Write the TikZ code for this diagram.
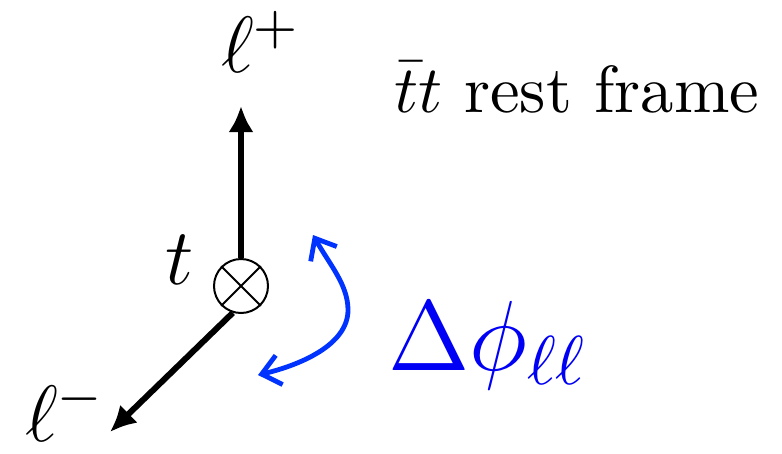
\documentclass[tikz,border=0pt]{standalone}
\usepackage{fontspec}
\usepackage{graphicx}
\usetikzlibrary{arrows.meta}
\definecolor{curveblue}{RGB}{0,51,255}
\definecolor{textblue}{RGB}{0,0,245}
\newcommand{\bigtxt}[2]{\scalebox{#1}{#2}}
\begin{document}
\begin{tikzpicture}[x=0.25pt,y=-0.25pt,
  lbl/.style={anchor=base west, inner sep=0pt, outer sep=0pt},
  vec/.style={line width=1.5pt, -{Latex[length=6.5pt,width=6.3pt]}},
  angarrow/.style={curveblue, line width=1.2pt, {Straight Barb[length=4.5pt,width=7.5pt]}-{Straight Barb[length=4.5pt,width=7.5pt]}},
  otimesnode/.style={circle, draw, line width=0.5pt, minimum size=13.5pt, inner sep=0pt, fill=white}]
\useasboundingbox (0,0) rectangle (782,453);
% coordinates for free ends
\coordinate (uptip) at (241,106);
\coordinate (dltip) at (110,432);
% t-quark node (otimes)
\node[otimesnode] (c) at (241,286) {};
\draw[vec] (c.north) -- (uptip);
\draw[vec] (c.253) -- (dltip);
\draw[line width=0.5pt] (c.45) -- (c.225) (c.135) -- (c.315);
% labels
\node[lbl] (lp) at (221,72) {\bigtxt{1.665}{\fontsize{12}{14}\selectfont $\ell^+$}};
\node[lbl] (lm) at (25,441) {\bigtxt{1.665}{\fontsize{12}{14}\selectfont $\ell^-$}};
\node[lbl] (tl) at (165,284) {\bigtxt{1.665}{\fontsize{12}{14}\selectfont $t$}};
\node[lbl] (rf) at (394,112) {\bigtxt{1.665}{\fontsize{10}{12}\selectfont $\bar{t}t$ rest frame}};
\node[lbl, text=textblue] (dphi) at (388,370) {\bigtxt{1.73}{\fontsize{14.4}{17}\selectfont $\Delta\phi_{\ell\ell}$}};
% angle arrow
\coordinate (atop) at (313,235);
\coordinate (amid) at (348,310);
\coordinate (abot) at (258,375);
\draw[angarrow] (atop) .. controls (330,265) and (348,285) .. (amid)
  .. controls (348,345) and (300,365) .. (abot);
\end{tikzpicture}
\end{document}
